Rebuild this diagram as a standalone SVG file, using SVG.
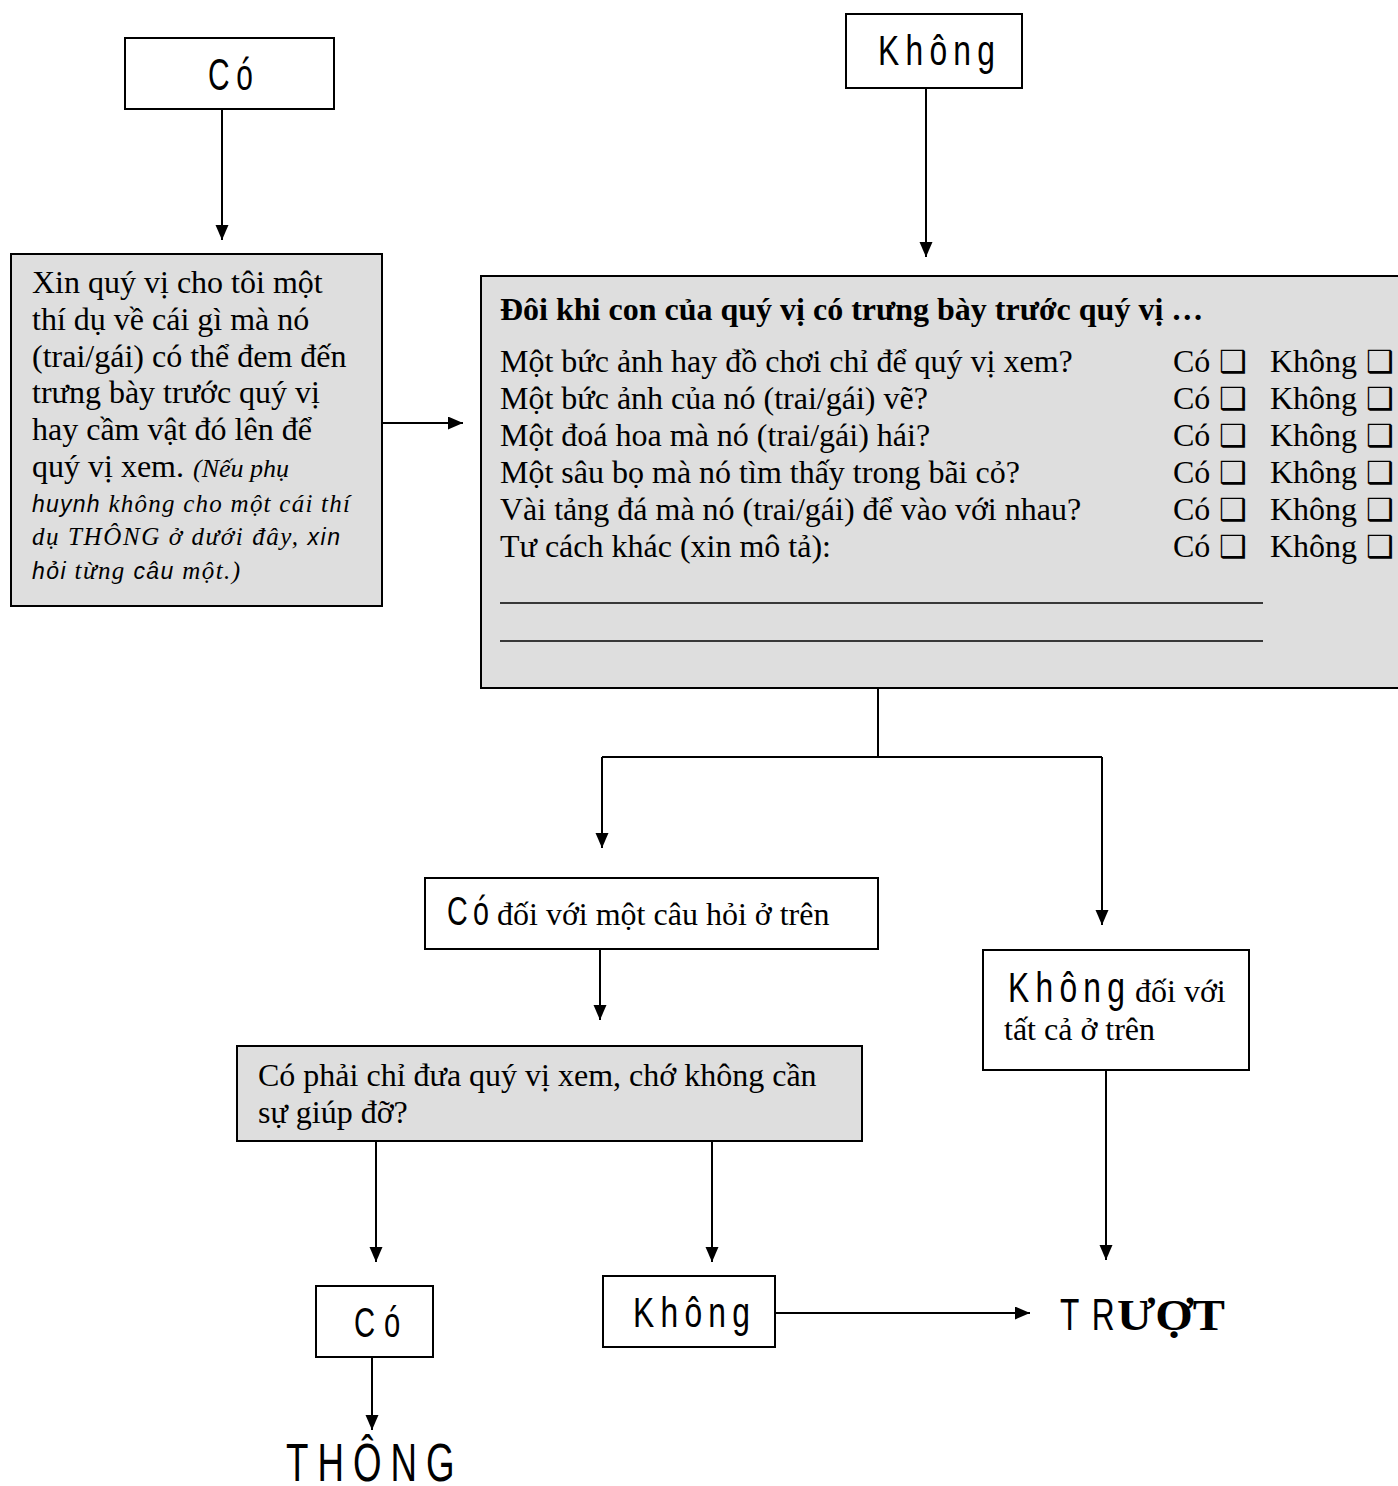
<svg xmlns="http://www.w3.org/2000/svg" width="1398" height="1486" viewBox="0 0 1398 1486">
<style>
.box{fill:#fff;stroke:#000;stroke-width:2}
.gbox{fill:#dedede;stroke:#000;stroke-width:2}
.ser{font-family:"Liberation Serif","Times New Roman",serif;font-size:32px;fill:#000}
.bold{font-weight:bold}
.it{font-family:"Liberation Serif","Times New Roman",serif;font-style:italic;font-size:25px;fill:#000}
.isans{font-family:"Liberation Sans",Arial,sans-serif;font-style:italic;font-size:23px}
.nar{font-family:"Liberation Sans",Arial,sans-serif;fill:#000}
.chk{font-family:"DejaVu Sans",sans-serif;font-size:31px}
.con{fill:none;stroke:#000;stroke-width:2}
.ul{stroke:#000;stroke-width:1.5}
</style>
<defs>
<marker id="ah" markerUnits="userSpaceOnUse" markerWidth="16" markerHeight="14" refX="15" refY="6.5" orient="auto">
<path d="M0,0 L15,6.5 L0,13 z" fill="#000"/>
</marker>
</defs>

<g id="connectors">
<path class="con" d="M222,109 V240" marker-end="url(#ah)"/>
<path class="con" d="M926,88 V257" marker-end="url(#ah)"/>
<path class="con" d="M382,423 H463" marker-end="url(#ah)"/>
<path class="con" d="M878,688 V757"/>
<path class="con" d="M602,757 H1102"/>
<path class="con" d="M602,757 V848" marker-end="url(#ah)"/>
<path class="con" d="M1102,757 V925" marker-end="url(#ah)"/>
<path class="con" d="M600,949 V1020" marker-end="url(#ah)"/>
<path class="con" d="M1106,1070 V1260" marker-end="url(#ah)"/>
<path class="con" d="M376,1141 V1262" marker-end="url(#ah)"/>
<path class="con" d="M712,1141 V1262" marker-end="url(#ah)"/>
<path class="con" d="M372,1357 V1430" marker-end="url(#ah)"/>
<path class="con" d="M775,1313 H1030" marker-end="url(#ah)"/>
</g>

<g id="node-co-top">
<rect class="box" x="125" y="38" width="209" height="71"/>
<text class="nar" font-size="44" transform="translate(208,90) scale(0.68,1)" textLength="66" lengthAdjust="spacing">Có</text>
</g>

<g id="node-khong-top">
<rect class="box" x="846" y="14" width="176" height="74"/>
<text class="nar" font-size="43" transform="translate(878,65) scale(0.74,1)" textLength="158" lengthAdjust="spacing">Không</text>
</g>

<g id="node-ask-example">
<rect class="gbox" x="11" y="254" width="371" height="352"/>
<text class="ser" x="32" y="293">Xin quý vị cho tôi một</text>
<text class="ser" x="32" y="330">thí dụ về cái gì mà nó</text>
<text class="ser" x="32" y="367">(trai/gái) có thể đem đến</text>
<text class="ser" x="32" y="403">trưng bày trước quý vị</text>
<text class="ser" x="32" y="440">hay cầm vật đó lên để</text>
<text class="ser" x="32" y="477">quý vị xem. <tspan class="it" x="193" style="font-size:26px">(Nếu phụ</tspan></text>
<text class="it" x="32" y="512" textLength="318" lengthAdjust="spacing"><tspan class="isans">huynh</tspan> không cho một cái thí</text>
<text class="it" x="32" y="545" textLength="308" lengthAdjust="spacing">dụ THÔNG ở dưới đây, <tspan class="isans">xin</tspan></text>
<text class="it" x="32" y="579" textLength="208" lengthAdjust="spacing"><tspan class="isans">hỏi</tspan> từng <tspan class="isans">câu</tspan> một.)</text>
</g>

<g id="node-questions">
<rect class="gbox" x="481" y="276" width="920" height="412"/>
<text class="ser bold" x="500" y="320">Đôi khi con của quý vị có trưng bày trước quý vị …</text>
<text class="ser" x="500" y="372">Một bức ảnh hay đồ chơi chỉ để quý vị xem?</text>
<text class="ser" x="500" y="409">Một bức ảnh của nó (trai/gái) vẽ?</text>
<text class="ser" x="500" y="446">Một đoá hoa mà nó (trai/gái) hái?</text>
<text class="ser" x="500" y="483">Một sâu bọ mà nó tìm thấy trong bãi cỏ?</text>
<text class="ser" x="500" y="520">Vài tảng đá mà nó (trai/gái) để vào với nhau?</text>
<text class="ser" x="500" y="557">Tư cách khác (xin mô tả):</text>
<g id="checkboxes">
<text class="ser" x="1173" y="372">Có <tspan class="chk" x="1219">❑</tspan></text>
<text class="ser" x="1270" y="372">Không <tspan class="chk" x="1366">❑</tspan></text>
<text class="ser" x="1173" y="409">Có <tspan class="chk" x="1219">❑</tspan></text>
<text class="ser" x="1270" y="409">Không <tspan class="chk" x="1366">❑</tspan></text>
<text class="ser" x="1173" y="446">Có <tspan class="chk" x="1219">❑</tspan></text>
<text class="ser" x="1270" y="446">Không <tspan class="chk" x="1366">❑</tspan></text>
<text class="ser" x="1173" y="483">Có <tspan class="chk" x="1219">❑</tspan></text>
<text class="ser" x="1270" y="483">Không <tspan class="chk" x="1366">❑</tspan></text>
<text class="ser" x="1173" y="520">Có <tspan class="chk" x="1219">❑</tspan></text>
<text class="ser" x="1270" y="520">Không <tspan class="chk" x="1366">❑</tspan></text>
<text class="ser" x="1173" y="557">Có <tspan class="chk" x="1219">❑</tspan></text>
<text class="ser" x="1270" y="557">Không <tspan class="chk" x="1366">❑</tspan></text>
</g>
<line class="ul" x1="500" y1="603" x2="1263" y2="603"/>
<line class="ul" x1="500" y1="641" x2="1263" y2="641"/>
</g>

<g id="node-yes-any">
<rect class="box" x="425" y="878" width="453" height="71"/>
<text class="nar" font-size="41" transform="translate(447,925) scale(0.7,1)" textLength="60" lengthAdjust="spacing">Có</text>
<text class="ser" x="497" y="925">đối với một câu hỏi ở trên</text>
</g>

<g id="node-no-all">
<rect class="box" x="983" y="950" width="266" height="120"/>
<text class="nar" font-size="43" transform="translate(1008,1002) scale(0.74,1)" textLength="158" lengthAdjust="spacing">Không</text>
<text class="ser" x="1135" y="1002">đối với</text>
<text class="ser" x="1004" y="1040">tất cả ở trên</text>
</g>

<g id="node-show-only">
<rect class="gbox" x="237" y="1046" width="625" height="95"/>
<text class="ser" x="258" y="1086">Có phải chỉ đưa quý vị xem, chớ không cần</text>
<text class="ser" x="258" y="1123">sự giúp đỡ?</text>
</g>

<g id="node-co-bottom">
<rect class="box" x="316" y="1286" width="117" height="71"/>
<text class="nar" font-size="43" transform="translate(354,1337) scale(0.68,1)" textLength="68" lengthAdjust="spacing">Có</text>
</g>

<g id="node-khong-bottom">
<rect class="box" x="603" y="1276" width="172" height="71"/>
<text class="nar" font-size="43" transform="translate(633,1327) scale(0.74,1)" textLength="158" lengthAdjust="spacing">Không</text>
</g>

<g id="node-thong">
<text class="nar" font-size="54" transform="translate(286,1481) scale(0.68,1)" textLength="248" lengthAdjust="spacing">THÔNG</text>
</g>

<g id="node-truot">
<text class="nar" font-size="44" transform="translate(1060,1330) scale(0.72,1)" textLength="76" lengthAdjust="spacing">TR</text>
<text class="ser bold" x="1117" y="1330" textLength="108" lengthAdjust="spacingAndGlyphs" style="font-size:44px">ƯỢT</text>
</g>
</svg>
